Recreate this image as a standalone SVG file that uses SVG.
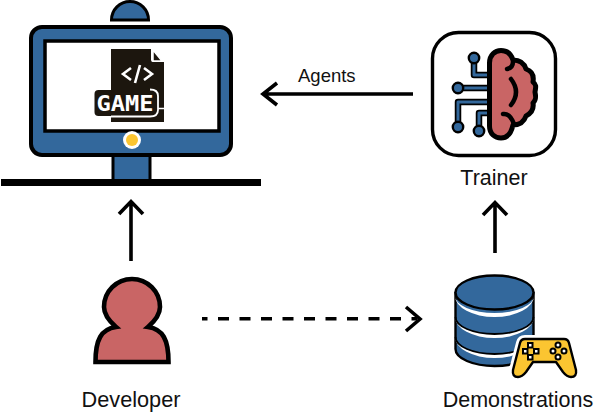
<svg xmlns="http://www.w3.org/2000/svg" width="594" height="412" viewBox="0 0 594 412">
<style>
.lbl{font-family:"Liberation Sans",Arial,sans-serif;fill:#111}
.blue{fill:#33689c;stroke:#000}
.red{fill:#c96565;stroke:#000}
.arr{fill:none;stroke:#000;stroke-width:3.6}
.ck{fill:none;stroke:#000;stroke-width:6.500;stroke-linejoin:round}
.cb{fill:none;stroke:#33689c;stroke-width:3;stroke-linejoin:round}
.btn{fill:#fff;stroke:#000;stroke-width:2}
.crk{fill:none;stroke:#000;stroke-width:1.800}
.crw{fill:#fff;stroke:none}
</style>
<rect width="594" height="412" fill="#fff"/>
<g id="monitor">
<path class="blue" stroke-width="3" d="M111.500 20 A18.500 18.500 0 0 1 148.500 20 Z"/>
<rect class="blue" stroke-width="3" x="113" y="150" width="37" height="32"/>
<rect class="blue" stroke-width="4" x="31" y="27" width="200" height="128" rx="11"/>
<rect x="45" y="41" width="174" height="90" fill="#fff" stroke="#000" stroke-width="3.500"/>
<rect x="1" y="179" width="260" height="7" fill="#000"/>
<circle cx="132" cy="140" r="9" fill="#fff"/>
<circle cx="132" cy="140" r="6" fill="#fbc531"/>
<path d="M111 49 H151 V60 Q151 62 153 62 H164 V122 H111 Z" fill="#1c160e"/>
<path d="M153 50 L162 61 H153 Z" fill="#1c160e" stroke="#fff" stroke-width="1.500"/>
<path d="M131 68 L123 74 L131 80 M144 68 L152 74 L144 80 M140 65 L135 83" fill="none" stroke="#fff" stroke-width="2.600"/>
<rect x="94.500" y="90" width="63" height="26" rx="4" fill="#1c160e"/>
<path d="M150 89.500 Q158 89.500 158 96 V110 Q158 116.500 150 116.500 H111" fill="none" stroke="#fff" stroke-width="1.800"/>
<path d="M158 108.500 H164" stroke="#fff" stroke-width="1.500"/>
<text x="125" y="111" text-anchor="middle" style="font-family:'DejaVu Sans Mono',monospace;font-weight:700;font-size:21px;fill:#fff" textLength="57" lengthAdjust="spacingAndGlyphs">GAME</text>
</g>
<g id="trainer">
<rect x="432.500" y="32.500" width="123" height="123" rx="26" fill="#fff" stroke="#000" stroke-width="3.400"/>
<path class="ck" d="M474 58 V75 H490 M458 88 H490 M458 127 V102 H490 M479 131 V113 H490"/>
<path class="cb" d="M474 58 V75 H490 M458 88 H490 M458 127 V102 H490 M479 131 V113 H490"/>
<g fill="#33689c" stroke="#000" stroke-width="2.400">
<circle cx="474" cy="58" r="5.200"/><circle cx="458" cy="88" r="5.200"/><circle cx="458" cy="127" r="5.200"/><circle cx="479" cy="131" r="5.200"/>
</g>
<path class="red" stroke-width="5" stroke-linejoin="round" d="M489.500 63 C489.500 55 495 50.500 501 50.500 C507 50.500 511 54 513 60 C519 60 524 63 526 69 C532 71 534 76 533 82 C537 85 535.500 88 535 92 C535.500 96 537 99 533 103 C534 109 532 113 526 116 C524 122 519 125 513 125 C511 134 507 138 501 138 C495 138 489.500 134 489.500 126 Z"/>
<path d="M507 69 Q513 68 513 61 M511 79 Q521 92 511 105 M503 114 Q510 113 514 124" fill="none" stroke="#000" stroke-width="4.500" stroke-linecap="round"/>
<text class="lbl" x="494" y="185" text-anchor="middle" font-size="21.500">Trainer</text>
</g>
<g id="demonstrations">
<path class="blue" stroke-width="2.400" d="M455.500 293 V349 A39 17 0 0 0 533.500 349 V293 Z"/>
<path class="crw" d="M455 296 A39.500 17 0 0 0 534 296 A39.500 21 0 0 1 455 296 Z M455 317 A39.500 17 0 0 0 534 317 A39.500 21 0 0 1 455 317 Z M455 337 A39.500 17 0 0 0 534 337 A39.500 21 0 0 1 455 337 Z"/>
<path class="crk" d="M455.500 317 A39 17 0 0 0 533.500 317 M455.500 337 A39 17 0 0 0 533.500 337"/>
<ellipse class="blue" stroke-width="2.400" cx="494.500" cy="292.500" rx="39" ry="17"/>
<path d="M525 339 H564 Q568 339 569 343 L576 370 Q577 377 571 377 Q567 377 563 372 L556 362 H533 L526 372 Q522 377 518 377 Q512 377 513 370 L520 343 Q521 339 525 339 Z" fill="#fff" stroke="#fff" stroke-width="8" stroke-linejoin="round"/>
<path d="M525 339 H564 Q568 339 569 343 L576 370 Q577 377 571 377 Q567 377 563 372 L556 362 H533 L526 372 Q522 377 518 377 Q512 377 513 370 L520 343 Q521 339 525 339 Z" fill="#fbc531" stroke="#000" stroke-width="2.400" stroke-linejoin="round"/>
<rect class="btn" x="528" y="343" width="4.500" height="4.500"/><rect class="btn" x="523" y="349" width="4.500" height="4.500"/><rect class="btn" x="534" y="349" width="4.500" height="4.500"/><rect class="btn" x="528" y="355" width="4.500" height="4.500"/>
<circle class="btn" cx="558" cy="345" r="2.500"/><circle class="btn" cx="553" cy="351" r="2.500"/><circle class="btn" cx="564" cy="351" r="2.500"/><circle class="btn" cx="558" cy="357" r="2.500"/>
<text class="lbl" x="518" y="407" text-anchor="middle" font-size="21.500">Demonstrations</text>
</g>
<g id="developer">
<path class="red" stroke-width="4.600" d="M95.500 362 C95.500 340 101 329 116 327 C108 320 104 314 104 307 A27.500 27.500 0 0 1 160 307 C160 314 156 320 148 327 C163 329 168.500 340 168.500 362 Z"/>
<text class="lbl" x="131" y="407" text-anchor="middle" font-size="21.700">Developer</text>
</g>
<g id="connectors">
<path class="arr" d="M131 261 V203 M119 214 L131 201.500 L143 214"/>
<path class="arr" d="M413 94 H265 M277 83 L263 94 L277 105"/>
<path class="arr" d="M495 253 V204 M483 215 L495 202.500 L507 215"/>
<path class="arr" d="M202 318.700 H417" stroke-dasharray="5.500 10.500 11 10.500 11 10.500 11 10.500 11 10.500 11 10.500 11 10.500 11 10.500 11 10.500 11 10.500 11 10.500"/>
<path class="arr" d="M406 307 L420 319 L406 331"/>
<text class="lbl" x="298" y="82" font-size="18.500">Agents</text>
</g>
</svg>
